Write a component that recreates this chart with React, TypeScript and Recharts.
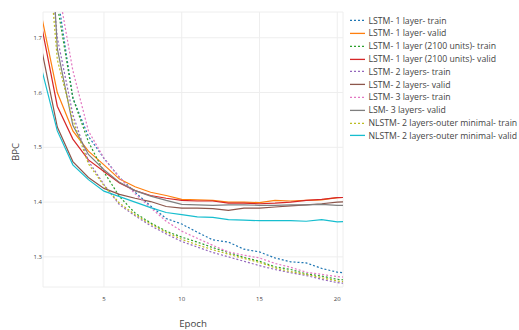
import { LineChart, Line, XAxis, YAxis, CartesianGrid, Legend } from "recharts";

const epochs = [1, 2, 3, 4, 5, 6, 7, 8, 9, 10, 11, 12, 13, 14, 15, 16, 17, 18, 19, 20, 21];

const lstm1Train = [2.1, 1.78, 1.59, 1.52, 1.48, 1.445, 1.418, 1.393, 1.37, 1.36, 1.345, 1.331, 1.327, 1.314, 1.309, 1.298, 1.291, 1.289, 1.279, 1.272, 1.27];
const lstm1Valid = [1.738, 1.6, 1.53, 1.493, 1.468, 1.442, 1.428, 1.418, 1.412, 1.405, 1.404, 1.403, 1.4, 1.4, 1.399, 1.403, 1.402, 1.403, 1.404, 1.408, 1.409];
const lstm2100Train = [2.1, 1.76, 1.59, 1.51, 1.455, 1.41, 1.38, 1.362, 1.347, 1.336, 1.327, 1.317, 1.308, 1.299, 1.292, 1.282, 1.277, 1.269, 1.265, 1.259, 1.257];
const lstm2100Valid = [1.72, 1.575, 1.515, 1.477, 1.456, 1.435, 1.421, 1.412, 1.407, 1.403, 1.402, 1.402, 1.398, 1.398, 1.397, 1.398, 1.4, 1.403, 1.405, 1.408, 1.409];
const lstm2Train = [2.0, 1.7, 1.56, 1.475, 1.432, 1.395, 1.375, 1.357, 1.342, 1.328, 1.318, 1.308, 1.3, 1.292, 1.284, 1.277, 1.271, 1.266, 1.259, 1.253, 1.25];
const lstm2Valid = [1.678, 1.537, 1.474, 1.445, 1.425, 1.414, 1.407, 1.401, 1.392, 1.389, 1.389, 1.388, 1.385, 1.389, 1.389, 1.391, 1.393, 1.395, 1.397, 1.4, 1.401];
const lstm3Train = [2.3, 1.8, 1.64, 1.53, 1.48, 1.445, 1.415, 1.39, 1.365, 1.347, 1.334, 1.321, 1.309, 1.303, 1.298, 1.288, 1.281, 1.272, 1.268, 1.264, 1.262];
const lsm3Valid = [2.2, 1.68, 1.54, 1.487, 1.459, 1.436, 1.421, 1.411, 1.403, 1.396, 1.395, 1.394, 1.395, 1.395, 1.394, 1.394, 1.395, 1.395, 1.396, 1.394, 1.394];
const nlstmTrain = [2.0, 1.66, 1.55, 1.47, 1.43, 1.398, 1.377, 1.36, 1.345, 1.332, 1.322, 1.313, 1.305, 1.297, 1.29, 1.28, 1.273, 1.268, 1.262, 1.256, 1.253];
const nlstmValid = [1.642, 1.53, 1.468, 1.441, 1.42, 1.41, 1.4, 1.39, 1.381, 1.377, 1.373, 1.372, 1.368, 1.367, 1.366, 1.366, 1.366, 1.365, 1.368, 1.364, 1.365];

const xTicks = [5, 10, 15, 20];
const yTicks = [1.3, 1.4, 1.5, 1.6, 1.7];

const series = [
  { key: "s0", name: "LSTM- 1 layer- train", values: lstm1Train, color: "#1f77b4", dotted: true },
  { key: "s1", name: "LSTM- 1 layer- valid", values: lstm1Valid, color: "#ff7f0e", dotted: false },
  { key: "s2", name: "LSTM- 1 layer (2100 units)- train", values: lstm2100Train, color: "#2ca02c", dotted: true },
  { key: "s3", name: "LSTM- 1 layer (2100 units)- valid", values: lstm2100Valid, color: "#d62728", dotted: false },
  { key: "s4", name: "LSTM- 2 layers- train", values: lstm2Train, color: "#9467bd", dotted: true },
  { key: "s5", name: "LSTM- 2 layers- valid", values: lstm2Valid, color: "#8c564b", dotted: false },
  { key: "s6", name: "LSTM- 3 layers- train", values: lstm3Train, color: "#e377c2", dotted: true },
  { key: "s7", name: "LSM- 3 layers- valid", values: lsm3Valid, color: "#7f7f7f", dotted: false },
  { key: "s8", name: "NLSTM- 2 layers-outer minimal- train", values: nlstmTrain, color: "#bcbd22", dotted: true },
  { key: "s9", name: "NLSTM- 2 layers-outer minimal- valid", values: nlstmValid, color: "#17becf", dotted: false },
];

const data = epochs.map((epoch, i) => {
  const row: Record<string, number> = { epoch };
  series.forEach((s) => {
    row[s.key] = s.values[i];
  });
  return row;
});

const FONT = '"Open Sans", sans-serif';

function renderLegend() {
  return (
    <div style={{ fontFamily: FONT, fontSize: 8.7, color: "#444" }}>
      {series.map((s) => (
        <div key={s.key} style={{ display: "flex", alignItems: "center", height: 12.8, whiteSpace: "nowrap" }}>
          <svg width={17} height={12.8} style={{ flex: "none" }}>
            <line
              x1={1}
              x2={16}
              y1={6.4}
              y2={6.4}
              stroke={s.color}
              strokeWidth={1.3}
              strokeDasharray={s.dotted ? "2 2" : undefined}
            />
          </svg>
          <span style={{ marginLeft: 2.5 }}>{s.name}</span>
        </div>
      ))}
    </div>
  );
}

export default function App() {
  return (
    <div style={{ position: "absolute", left: 0, top: 0, width: 519, height: 330, background: "#fff", overflow: "hidden" }}>
      <LineChart width={519} height={330} data={data} margin={{ top: 12, right: 176, bottom: 0, left: 0 }}>
        <CartesianGrid stroke="#eee" strokeWidth={1} />
        <XAxis
          dataKey="epoch"
          type="number"
          domain={[1.08, 20.37]}
          ticks={xTicks}
          allowDataOverflow
          axisLine={false}
          tickLine={false}
          tickSize={0}
          tickMargin={10}
          height={43}
          tick={{ fontSize: 6, fill: "#444", fontFamily: FONT }}
          label={{
            content: () => (
              <text x={193} y={326.5} textAnchor="middle" fontSize={9.7} fill="#444" fontFamily={FONT}>
                Epoch
              </text>
            ),
          }}
        />
        <YAxis
          type="number"
          domain={[1.245, 1.747]}
          ticks={yTicks}
          allowDataOverflow
          width={43}
          axisLine={false}
          tickLine={false}
          tickSize={0}
          tickMargin={1}
          tick={{ fontSize: 6, fill: "#444", fontFamily: FONT }}
          tickFormatter={(v: number) => v.toFixed(1)}
          label={{
            content: () => (
              <text
                x={15}
                y={152}
                transform="rotate(-90 15 152)"
                textAnchor="middle"
                dominantBaseline="central"
                fontSize={9.7}
                fill="#444"
                fontFamily={FONT}
              >
                BPC
              </text>
            ),
          }}
        />
        <Legend
          layout="horizontal"
          verticalAlign="middle"
          align="center"
          content={renderLegend}
          wrapperStyle={{ left: 349, top: 14.3, width: 170, height: 130 }}
        />
        {series.map((s) => (
          <Line
            key={s.key}
            dataKey={s.key}
            name={s.name}
            type="linear"
            stroke={s.color}
            strokeWidth={1.2}
            strokeDasharray={s.dotted ? "2 2" : undefined}
            dot={false}
            activeDot={false}
            isAnimationActive={false}
          />
        ))}
      </LineChart>
    </div>
  );
}
